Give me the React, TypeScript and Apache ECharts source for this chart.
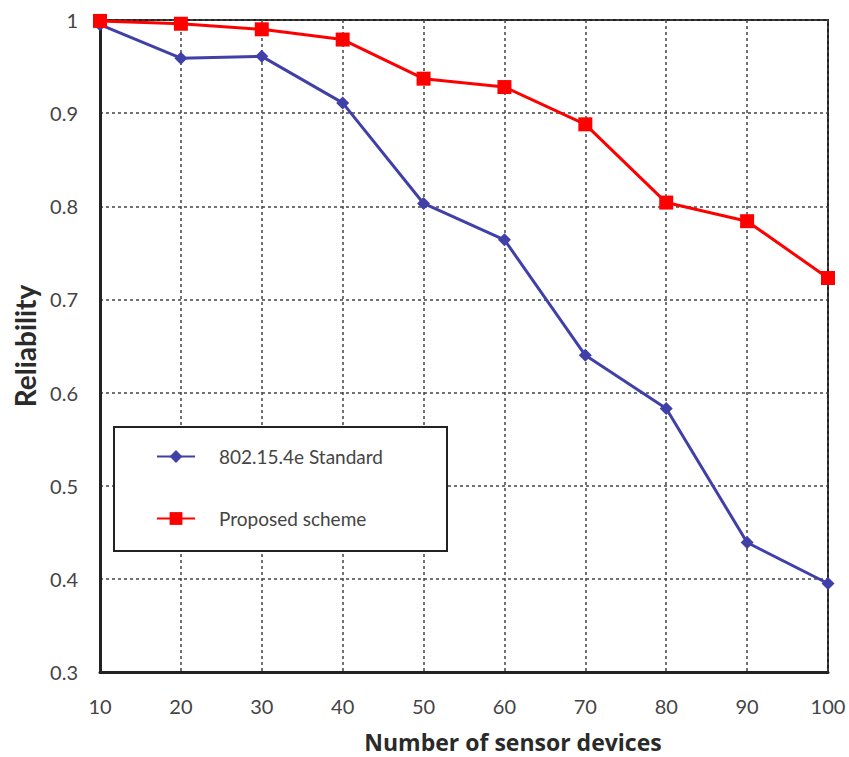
import React, { useEffect, useRef } from "react";
import * as echarts from "echarts";

const deviceCounts = [10, 20, 30, 40, 50, 60, 70, 80, 90, 100];
const standardReliability = [0.995, 0.959, 0.961, 0.911, 0.803, 0.764, 0.64, 0.583, 0.439, 0.395];
const proposedReliability = [0.999, 0.996, 0.99, 0.979, 0.937, 0.928, 0.888, 0.804, 0.784, 0.723];
const seriesNames = ["802.15.4e Standard", "Proposed scheme"];

const FONT = "Lato, 'Open Sans', sans-serif";
const TITLE_FONT = "'Open Sans', Lato, sans-serif";
const GRID = { left: 100, top: 20, right: 21, bottom: 85 };

export default function App() {
  const ref = useRef<HTMLDivElement>(null);

  useEffect(() => {
    if (!ref.current) return;
    const chart = echarts.init(ref.current, null, { renderer: "svg" });
    const toPairs = (vals: number[]) => deviceCounts.map((x, i) => [x, vals[i]]);

    chart.setOption({
      animation: false,
      backgroundColor: "#ffffff",
      grid: {
        ...GRID,
        outerBoundsMode: "none",
        containLabel: false,
        show: true,
        borderColor: "#222",
        borderWidth: 2,
      },
      graphic: [
        {
          type: "rect",
          left: 113,
          top: 426,
          shape: { width: 333, height: 124 },
          style: { fill: "#ffffff", stroke: "#222", lineWidth: 2 },
          z: 10,
        },
      ],
      legend: {
        orient: "vertical",
        left: 151,
        top: 442,
        itemWidth: 38,
        itemHeight: 16,
        itemGap: 43,
        z: 20,
        textStyle: {
          fontFamily: FONT,
          fontSize: 19,
          color: "#444",
          padding: [0, 0, 0, 19],
        },
        data: seriesNames,
      },
      xAxis: {
        type: "value",
        min: 10,
        max: 100,
        interval: 10,
        name: "Number of sensor devices",
        nameLocation: "middle",
        nameGap: 58,
        nameTextStyle: {
          fontFamily: TITLE_FONT,
          fontSize: 23,
          lineHeight: 24,
          fontWeight: "bold",
          color: "#2a2a2a",
          padding: [0, 0, 0, 98],
        },
        axisLine: { lineStyle: { color: "#222", width: 3 } },
        axisTick: { show: false },
        axisLabel: { fontFamily: FONT, fontSize: 20, color: "#444", margin: 24 },
        splitLine: { show: true, lineStyle: { color: "#444", type: [3, 3], width: 1.5 } },
      },
      yAxis: {
        type: "value",
        min: 0.3,
        max: 1,
        interval: 0.1,
        name: "Reliability",
        nameLocation: "middle",
        nameGap: 55,
        nameTextStyle: { fontFamily: FONT, fontSize: 28, fontWeight: "bold", color: "#2a2a2a" },
        axisLine: { show: true, lineStyle: { color: "#222", width: 3 } },
        axisTick: { show: false },
        axisLabel: {
          fontFamily: FONT,
          fontSize: 20,
          color: "#444",
          margin: 22,
          formatter: (v: number) => String(Math.round(v * 10) / 10),
        },
        splitLine: { show: true, lineStyle: { color: "#444", type: [3, 3], width: 1.5 } },
      },
      series: [
        {
          name: seriesNames[0],
          type: "line",
          data: toPairs(standardReliability),
          symbol: "diamond",
          symbolSize: 13,
          lineStyle: { color: "#4040a8", width: 3 },
          itemStyle: { color: "#4040a8" },
          z: 3,
        },
        {
          name: seriesNames[1],
          type: "line",
          data: toPairs(proposedReliability),
          symbol: "rect",
          symbolSize: 14,
          lineStyle: { color: "#ff0000", width: 3 },
          itemStyle: { color: "#ff0000" },
          z: 4,
        },
      ],
    });

    return () => chart.dispose();
  }, []);

  return <div ref={ref} style={{ width: 849, height: 757, position: "absolute", left: 0, top: 0 }} />;
}
